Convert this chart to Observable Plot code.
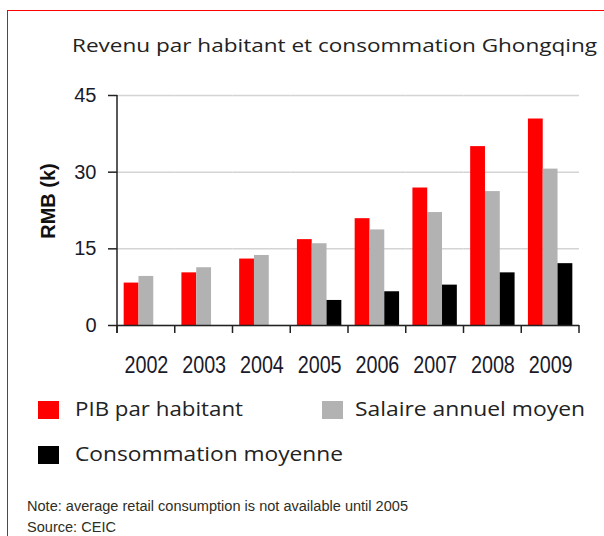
<!DOCTYPE html>
<html><head><meta charset="utf-8">
<script src="https://cdn.jsdelivr.net/npm/d3@7"></script>
<script src="https://cdn.jsdelivr.net/npm/@observablehq/plot@0.6"></script>
<style>
html,body{margin:0;padding:0;width:604px;height:536px;overflow:hidden;background:#fff;}
#frame{position:absolute;left:7px;top:10px;width:640px;height:600px;border:1.5px solid #f00;box-sizing:border-box;}
#title{position:absolute;left:72px;top:33px;font-family:"Open Sans";font-size:17.5px;color:#222;white-space:nowrap;transform-origin:0 0;}
#chart{position:absolute;left:0;top:80px;}
.leg{position:absolute;font-family:"Open Sans";font-size:19.5px;color:#222;white-space:nowrap;line-height:24px;transform-origin:0 0;}
.sw{position:absolute;width:21px;height:18px;}
#note{position:absolute;left:27px;top:496px;font-family:"Liberation Sans",sans-serif;font-size:14px;color:#2e2e24;line-height:21px;white-space:nowrap;transform-origin:0 0;}
</style></head>
<body>
<div id="frame"></div>
<div id="title">Revenu par habitant et consommation Ghongqing</div>
<div id="chart"></div>
<div id="legend"></div>
<div id="note"><span id="note1">Note: average retail consumption is not available until 2005</span><br>Source: CEIC</div>
<script>
const years = ["2002","2003","2004","2005","2006","2007","2008","2009"];
const series = ["PIB par habitant","Salaire annuel moyen","Consommation moyenne"];
const pib = [8.3,10.3,13.0,16.8,20.9,26.9,35.0,40.4];
const salaire = [9.6,11.3,13.7,16.0,18.7,22.1,26.2,30.6];
const conso = [null,null,null,4.9,6.6,7.9,10.3,12.1];
const yTicks = [0,15,30,45];
const colors = ["#ff0000","#b2b2b2","#000000"];

const data = [];
years.forEach((yr,i)=>{[pib,salaire,conso].forEach((arr,j)=>{ if(arr[i]!=null) data.push({year:yr, series:series[j], value:arr[i]}); });});

const W=604,H=300,ML=117,MR=25,MT=15,MB=55;
const chart = Plot.plot({
  width:W,height:H,marginLeft:ML,marginRight:MR,marginTop:MT,marginBottom:MB,
  style:{fontFamily:"'Liberation Sans',sans-serif",fontSize:"23px",color:"#1a1a2a",background:"transparent",overflow:"visible"},
  fx:{domain:years,paddingInner:0,paddingOuter:0,round:false,axis:"bottom",tickSize:0,tickPadding:31,label:null},
  x:{domain:series,paddingInner:0,paddingOuter:0.45,round:false,axis:null},
  y:{domain:[0,45],axis:null},
  color:{domain:series,range:colors},
  marks:[
    Plot.gridY(yTicks,{stroke:"#d4d4d4",strokeOpacity:1,strokeWidth:1.5}),
    Plot.barY(data,{fx:"year",x:"series",y:"value",fill:"series"}),
    Plot.ruleY([0],{stroke:"#222",strokeWidth:1.5}),
    Plot.axisY(yTicks,{anchor:"left",tickSize:9,tickPadding:12,stroke:"#222",strokeWidth:1.5,fontSize:20,fill:"#1a1a2a",label:null})
  ]
});
document.getElementById("chart").appendChild(chart);
const ys = chart.scale("y");
const fxs = chart.scale("fx");
const svg = d3.select(chart);
const y0 = ys.apply(0);
// condensed year labels
svg.selectAll('g[aria-label="fx-axis tick label"] text').each(function(){
  const t = this.getAttribute("transform") || "";
  this.setAttribute("transform", t + " scale(0.86,1)");
});
// y axis line
svg.append("line")
  .attr("x1",ML).attr("x2",ML)
  .attr("y1",ys.apply(45)).attr("y2",y0+8)
  .attr("stroke","#222").attr("stroke-width",1.5);
// category boundary ticks
const bw = fxs.bandwidth;
const bounds = years.map(y=>fxs.apply(y)).concat([fxs.apply(years[years.length-1])+bw]);
svg.append("g").selectAll("line").data(bounds).join("line")
  .attr("x1",d=>d).attr("x2",d=>d).attr("y1",y0).attr("y2",y0+8)
  .attr("stroke","#222").attr("stroke-width",1.5);
// y axis label
svg.append("text")
  .attr("transform",`translate(48,${(y0+ys.apply(45))/2 - 9}) rotate(-90)`)
  .attr("text-anchor","middle").attr("dy","0.35em")
  .attr("font-family","Liberation Sans").attr("font-weight","bold").attr("font-size",20).attr("fill","#111")
  .text("RMB (k)");

const legendItems = [
  {label:series[0], color:colors[0], sx:38, tx:75, y:401, w:168},
  {label:series[1], color:colors[1], sx:322, tx:355, y:401, w:230},
  {label:series[2], color:colors[2], sx:38, tx:75, y:446, w:268}
];
function fit(el, w){ const r = el.getBoundingClientRect().width; if(r>0) el.style.transform = `scaleX(${w/r})`; }
const leg = document.getElementById("legend");
legendItems.forEach(it=>{
  const s=document.createElement("div"); s.className="sw"; s.style.left=it.sx+"px"; s.style.top=it.y+"px"; s.style.background=it.color; leg.appendChild(s);
  const t=document.createElement("div"); t.className="leg"; t.style.left=it.tx+"px"; t.style.top=(it.y-4)+"px"; t.textContent=it.label; leg.appendChild(t);
  fit(t, it.w);
});
fit(document.getElementById("title"), 525);
{ const n=document.getElementById("note"), n1=document.getElementById("note1");
  const r=n1.getBoundingClientRect().width; n.style.transform=`scaleX(${381/r})`; }
</script>
</body></html>
